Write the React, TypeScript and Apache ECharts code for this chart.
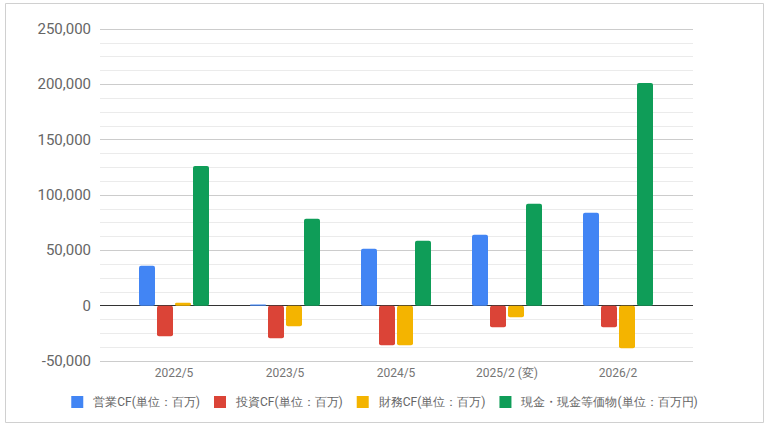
import React, { useEffect, useRef } from "react";
import * as echarts from "echarts";

const categories = ["2022/5", "2023/5", "2024/5", "2025/2 (変)", "2026/2"];
const seriesNames = [
  "営業CF(単位：百万)",
  "投資CF(単位：百万)",
  "財務CF(単位：百万)",
  "現金・現金等価物(単位：百万円)",
];
const operatingCF = [36100, 1000, 51400, 64100, 83900];
const investingCF = [-27700, -29500, -35800, -19600, -19600];
const financingCF = [2700, -18700, -35800, -10500, -38500];
const cashEquivalents = [126300, 78500, 58700, 92000, 201300];
const colors = ["#4285F4", "#DB4437", "#F4B400", "#0F9D58"];
const yMin = -50000;
const yMax = 250000;
const yInterval = 50000;

export default function App() {
  const ref = useRef<HTMLDivElement>(null);
  useEffect(() => {
    if (!ref.current) return;
    const chart = echarts.init(ref.current, null, { renderer: "svg" });
    const values = [operatingCF, investingCF, financingCF, cashEquivalents];
    const nLines = (yMax - yMin) / yInterval + 1;
    const splitColors: string[] = [];
    for (let i = 0; i < nLines; i++) {
      splitColors.push(yMin + i * yInterval === 0 ? "#333333" : "#cccccc");
    }
    const font = "Roboto, Arial, sans-serif";
    chart.setOption({
      animation: false,
      color: colors,
      graphic: [
        {
          type: "rect",
          shape: { x: 5.5, y: 3.5, width: 758, height: 419 },
          style: { fill: "none", stroke: "#d0d0d0", lineWidth: 1 },
          silent: true,
          z: -10,
        },
      ],
      legend: {
        data: seriesNames,
        top: 391,
        left: "center",
        itemWidth: 12,
        itemHeight: 12,
        itemGap: 14,
        icon: "rect",
        textStyle: {
          fontFamily: font,
          fontSize: 12,
          color: "#666666",
          padding: [0, 0, 0, 5],
        },
      },
      grid: [
        { left: 100, width: 593, top: 29, height: 332 },
        { left: 118.5, width: 555, top: 29, height: 332 },
      ],
      xAxis: [
        {
          type: "category",
          gridIndex: 0,
          data: categories,
          show: false,
        },
        {
          type: "category",
          gridIndex: 1,
          data: categories,
          axisLine: { show: false, onZero: false },
          axisTick: { show: false },
          axisLabel: {
            margin: 6,
            fontFamily: font,
            fontSize: 12,
            color: "#757575",
          },
        },
      ],
      yAxis: [
        {
          type: "value",
          gridIndex: 0,
          min: yMin,
          max: yMax,
          interval: yInterval,
          axisLine: { show: false },
          axisTick: { show: false },
          axisLabel: {
            margin: 9,
            fontFamily: font,
            fontSize: 15,
            color: "#666666",
            formatter: (v: number) => v.toLocaleString("en-US"),
          },
          splitLine: { show: true, lineStyle: { color: splitColors, width: 1 } },
          minorTick: { show: false, splitNumber: 4 },
          minorSplitLine: { show: true, lineStyle: { color: "#ebebeb", width: 1 } },
        },
        {
          type: "value",
          gridIndex: 1,
          min: yMin,
          max: yMax,
          interval: yInterval,
          show: false,
          splitLine: { show: false },
        },
      ],
      series: values.map((d, i) => ({
        name: seriesNames[i],
        type: "bar",
        xAxisIndex: 1,
        yAxisIndex: 1,
        data: d,
        barWidth: 16,
        barGap: "12.5%",
        itemStyle: { color: colors[i], borderRadius: 2 },
      })),
    });
    return () => chart.dispose();
  }, []);
  return (
    <div
      ref={ref}
      style={{ position: "fixed", left: 0, top: 0, width: 769, height: 427, background: "#fff" }}
    />
  );
}
